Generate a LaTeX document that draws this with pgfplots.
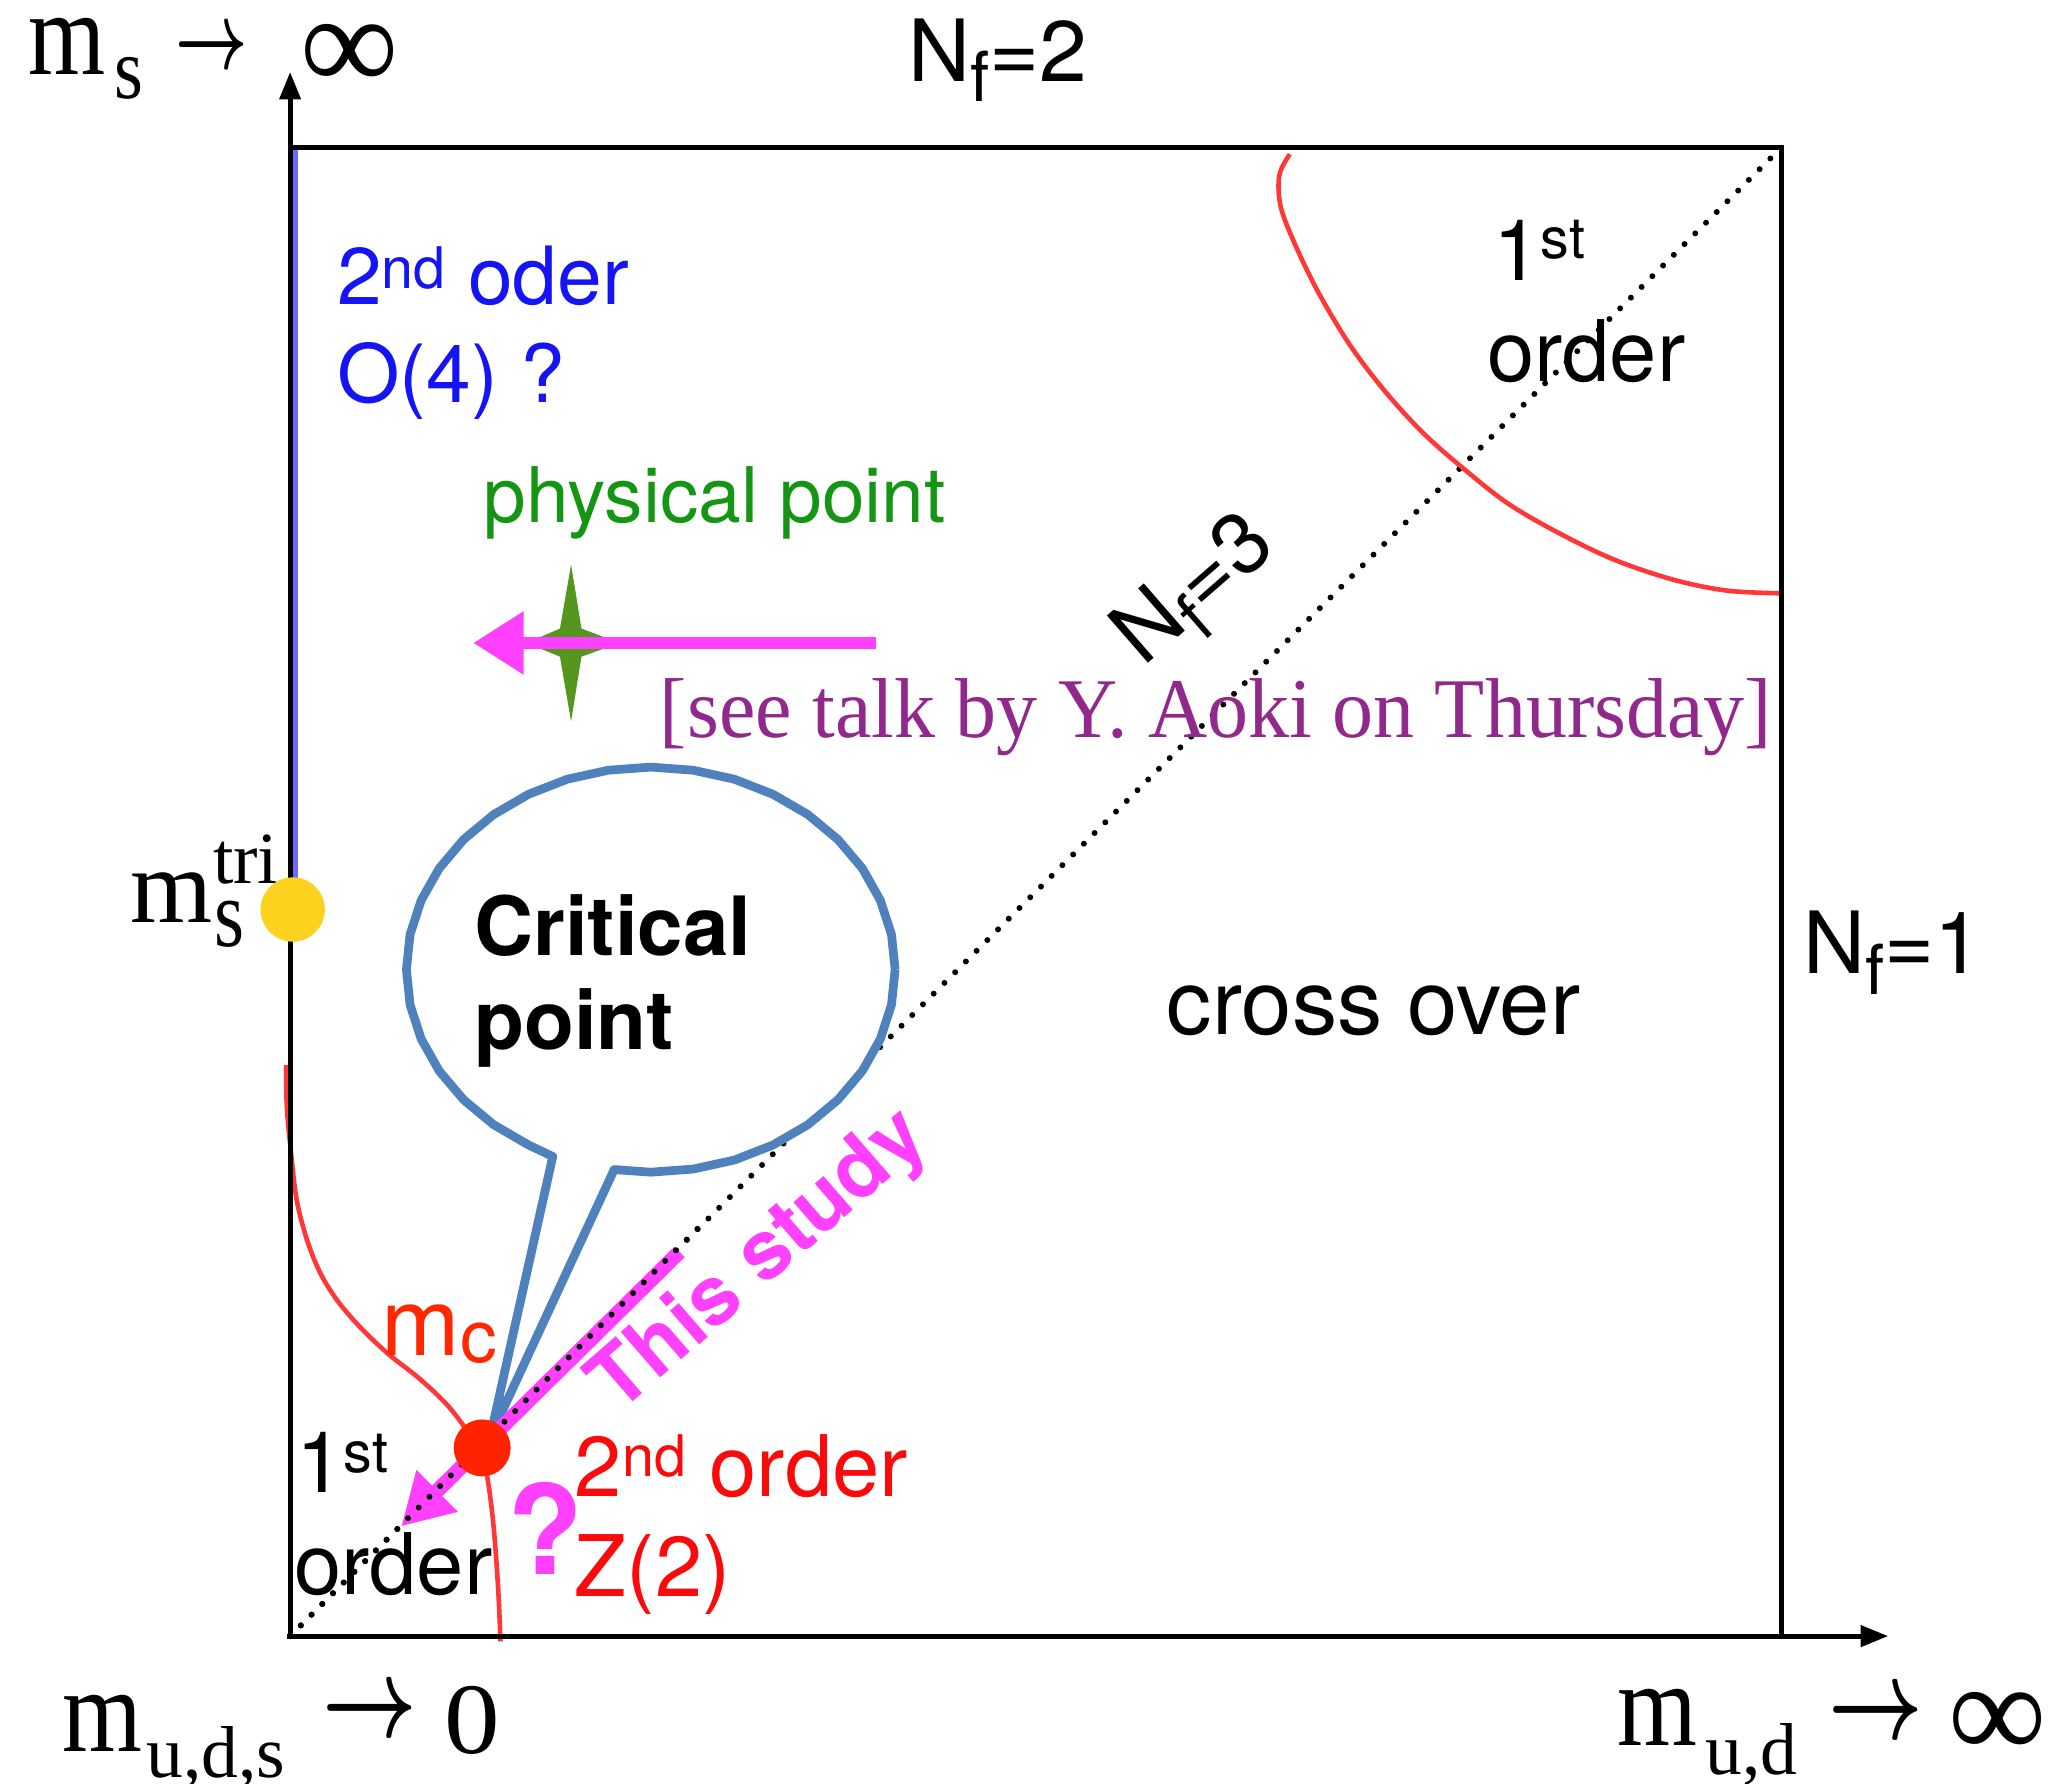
\documentclass[border=0pt]{standalone}
\usepackage{pgfplots}
\pgfplotsset{compat=1.18}
\usetikzlibrary{arrows.meta}
\usepackage{fontspec}
\setmainfont{TeX Gyre Heros}
\newfontfamily\tms{Liberation Serif}

\definecolor{mag}{RGB}{255,64,255}
\definecolor{redline}{RGB}{255,55,55}
\definecolor{reddot}{RGB}{255,35,0}
\definecolor{mcred}{RGB}{255,40,0}
\definecolor{txtred}{RGB}{250,10,10}
\definecolor{txtblue}{RGB}{20,20,245}
\definecolor{txtgreen}{RGB}{20,150,20}
\definecolor{purp}{RGB}{145,40,140}
\definecolor{bubble}{RGB}{79,129,189}
\definecolor{tyellow}{RGB}{252,210,30}
\definecolor{stargreen}{RGB}{85,150,30}
\definecolor{blueline}{RGB}{105,105,255}

\newcommand{\fs}[1]{\fontsize{#1}{#1}\selectfont}
\newcommand{\sups}[2]{\raise#2\hbox{\fs{12.5}#1}}
\DeclareRobustCommand{\barrow}[2]{\mbox{\fs{#1}\mathversion{bold}\scalebox{#2}[1]{$\rightarrow$}}}
\tikzset{lb/.style={inner sep=0pt, outer sep=0pt}}

\begin{document}
\begin{tikzpicture}
\begin{axis}[
  width=156.8mm, height=136.5mm, scale only axis,
  xmin=0, xmax=1568, ymin=0, ymax=1365, y dir=reverse,
  hide axis, clip=false,
]
% N_f=3 diagonal
\addplot[black, line width=1.3pt, line cap=round, dash pattern=on 0pt off 3.3pt]
  coordinates {(222,1252)(1363,113)};

% first order boundaries
\addplot[redline, line width=1pt, smooth, tension=0.55] coordinates {
  (987,118)(979,134)(980,158)(991,187)(1009,224)(1033,264)(1059.5,299)
  (1088.7,331)(1120.4,359)(1155,386)(1195,409)(1237,429)(1282,444)(1322,452)(1362,454)};
\addplot[redline, line width=1pt, smooth, tension=0.55] coordinates {
  (219,815)(219.5,847)(222.5,880)(227,918)(235,949)(245,974)(258,995)
  (275,1015)(297,1036)(321,1055)(343,1076)(360,1099)(371,1122)(377,1161)
  (381,1212)(383,1256)};

% tricritical point and O(4) line
\addplot[tyellow, only marks, mark=*, mark size=6.8pt] coordinates {(224,696)};
\addplot[blueline, line width=1.1pt] coordinates {(226,115)(226,672)};

% frame and axes
\addplot[black, line width=1.1pt] coordinates {(222,113)(1363,113)(1363,1252)};
\addplot[black, line width=1.1pt, -{Triangle[length=6pt,width=4.5pt]}]
  coordinates {(222,1252)(222,55)};
\addplot[black, line width=1.1pt, -{Triangle[length=6pt,width=4.5pt]}]
  coordinates {(220,1252)(1445,1252)};

% physical point star
\addplot[fill=stargreen, draw=none] coordinates {
  (437,432)(445,481)(474,492)(445,502.5)(437,552)(428.5,502.5)(403,492)(428.5,481)};
\addplot[mag, line width=2.8pt, -{Triangle[length=11pt,width=13pt]}]
  coordinates {(670,492)(362,492)};

% speech bubble
\addplot[draw=bubble, fill=white, line width=1.9pt, line join=round] coordinates {
  (685,742)(682.2,768.9)(673.7,795)(659.9,819.5)(641.2,841.6)(618.2,860.7)
  (591.5,876.2)(562,887.7)(530.5,894.6)(498,897)(470,895)(375,1100)(423,885)
  (404.5,876.2)(377.8,860.7)(354.8,841.6)(336.1,819.5)(322.3,795)(313.8,768.9)
  (311,742)(313.8,715.1)(322.3,689)(336.1,664.5)(354.8,642.4)(377.8,623.3)
  (404.5,607.8)(434,596.3)(465.5,589.4)(498,587)(530.5,589.4)(562,596.3)
  (591.5,607.8)(618.2,623.3)(641.2,642.4)(659.9,664.5)(673.7,689)(682.2,715.1)
  (685,742)};

% critical point and this study
\addplot[reddot, only marks, mark=*, mark size=6pt] coordinates {(369,1108)};
\addplot[mag, line width=3.2pt, -{Triangle[length=11pt,width=12pt]}]
  coordinates {(520,958)(307,1168)};
\addplot[black, line width=1.3pt, line cap=round, dash pattern=on 0pt off 3.3pt]
  coordinates {(222,1252)(540,934)};

% serif axis labels
\node[lb, anchor=base west] at (axis cs:22,57) {\tms\fs{26}\scalebox{0.83}[1]{m}};
\node[lb, anchor=base west] at (axis cs:88,75) {\tms\fs{19}\scalebox{0.85}[1]{s}};
\node[lb, anchor=west] at (axis cs:134,38) {\barrow{22}{0.66}};
\node[lb, anchor=base west] at (axis cs:230,69) {\tms\fs{30}∞};

\node[lb, anchor=base west] at (axis cs:48,1340) {\tms\fs{26}\scalebox{0.86}[1]{m}};
\node[lb, anchor=base west] at (axis cs:112,1360) {\tms\fs{16}u,d,s};
\node[lb, anchor=west] at (axis cs:247,1312) {\barrow{25}{0.72}};
\node[lb, anchor=base west] at (axis cs:340,1342) {\tms\fs{22}\scalebox{1.1}[1]{0}};

\node[lb, anchor=base west] at (axis cs:1238,1336) {\tms\fs{26}\scalebox{0.86}[1]{m}};
\node[lb, anchor=base west] at (axis cs:1305,1358) {\tms\fs{16}u,d};
\node[lb, anchor=west] at (axis cs:1399,1313) {\barrow{25}{0.72}};
\node[lb, anchor=base west] at (axis cs:1491,1346) {\tms\fs{30}∞};

\node[lb, anchor=base west] at (axis cs:100,706) {\tms\fs{23}m};
\node[lb, anchor=base west] at (axis cs:163,676) {\tms\fs{16}tri};
\node[lb, anchor=base west] at (axis cs:164,724) {\tms\fs{21}\scalebox{0.8}[1]{s}};

\node[lb, anchor=base west, text=purp] at (axis cs:505,564)
  {\tms\fs{18.5}\scalebox{0.965}[1]{[see talk by Y. Aoki on Thursday]}};

% sans labels
\node[lb, anchor=base west] at (axis cs:695,62) {\fs{18.7}N\lower4.5pt\hbox{\fs{15}f}=2};
\node[lb, anchor=base west] at (axis cs:1380,745) {\fs{18.7}N\lower4.5pt\hbox{\fs{15}f}=1};
\node[lb, rotate=41] at (axis cs:916,454) {\fs{18.7}N\lower4.5pt\hbox{\fs{15}f}=3};

\node[lb, anchor=base west, text=txtblue] at (axis cs:258,233) {\fs{17.5}2\sups{nd}{3.5pt} oder};
\node[lb, anchor=base west, text=txtblue] at (axis cs:258,308) {\fs{17.5}O(4) ?};
\node[lb, anchor=base west, text=txtgreen] at (axis cs:370,400) {\fs{16.7}physical point};

\node[lb, anchor=base west] at (axis cs:1143,215) {\fs{18.5}1\sups{st}{5pt}};
\node[lb, anchor=base west] at (axis cs:1138,292) {\fs{18.5}order};
\node[lb, anchor=base west] at (axis cs:893,792) {\fs{19.7}cross over};

\node[lb, anchor=base west] at (axis cs:363,731) {\fs{17.8}\bfseries Critical};
\node[lb, anchor=base west] at (axis cs:363,803) {\fs{17.8}\bfseries point};

\node[lb, anchor=base west, text=mcred] at (axis cs:292,1037) {\fs{20.5}m\lower1.5pt\hbox{\fs{16}c}};
\node[lb, anchor=base west] at (axis cs:227,1142) {\fs{18.5}1\sups{st}{4.3pt}};
\node[lb, anchor=base west] at (axis cs:225,1220) {\fs{18.5}order};
\node[lb, anchor=base west, text=mag] at (axis cs:388,1205) {\fs{27}\bfseries ?};
\node[lb, anchor=base west, text=txtred] at (axis cs:440,1145) {\fs{18.5}2\sups{nd}{4.3pt} order};
\node[lb, anchor=base west, text=txtred] at (axis cs:440,1222) {\fs{18.5}Z(2)};
\node[lb, rotate=41, text=mag] at (axis cs:582,966) {\fs{18}\bfseries This study};
\end{axis}
\pgfresetboundingbox
\path (0,0) rectangle (156.8mm,136.5mm);
\end{tikzpicture}
\end{document}
